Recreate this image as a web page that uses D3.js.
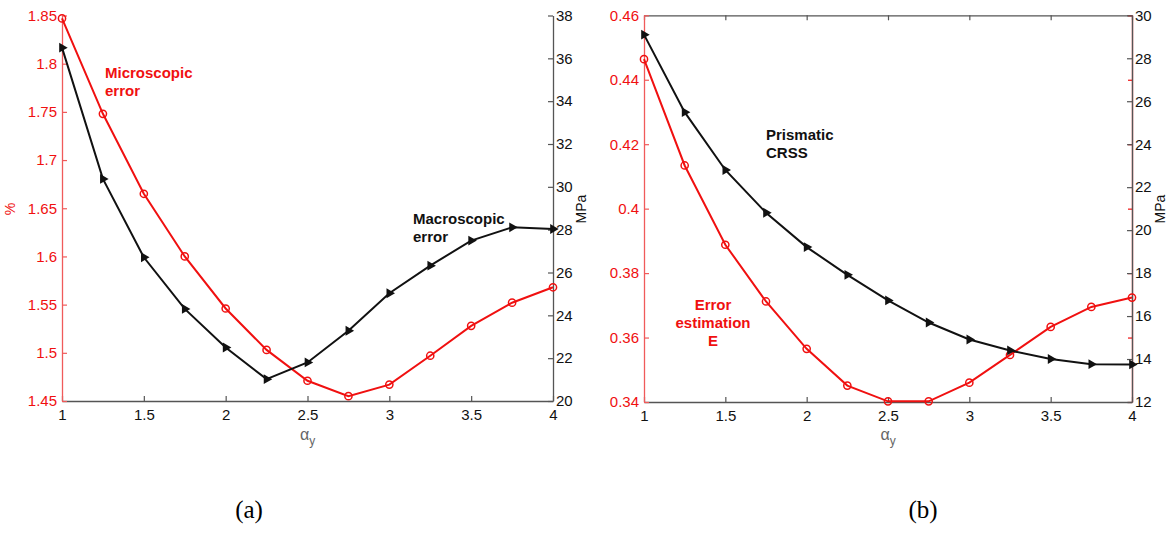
<!DOCTYPE html>
<html>
<head>
<meta charset="utf-8">
<script src="https://cdn.jsdelivr.net/npm/d3@7"></script>
<style>
  body { margin: 0; background: #fff; }
  svg { display: block; }
  text { font-family: Arial, "Liberation Sans", sans-serif; }
</style>
</head>
<body>
<div id="chart"></div>
<script>
// values
const alphaY = [1, 1.25, 1.5, 1.75, 2, 2.25, 2.5, 2.75, 3, 3.25, 3.5, 3.75, 4];

// (a)
const microError = [1.847, 1.748, 1.665, 1.600, 1.546, 1.503, 1.471, 1.455, 1.467, 1.497, 1.528, 1.552, 1.568];
const macroError = [36.5, 30.37, 26.71, 24.3, 22.5, 21.02, 21.8, 23.28, 25.03, 26.32, 27.49, 28.11, 28.03];

// (b)
const errorEstimation = [0.4464, 0.4134, 0.3888, 0.3712, 0.3565, 0.3451, 0.3402, 0.3402, 0.346, 0.3546, 0.3633, 0.3695, 0.3724];
const prismaticCRSS = [29.1, 25.49, 22.8, 20.81, 19.21, 17.92, 16.73, 15.7, 14.91, 14.4, 14.0, 13.76, 13.75];

const xTicks = [1, 1.5, 2, 2.5, 3, 3.5, 4];
const aLeftTicks = [1.45, 1.5, 1.55, 1.6, 1.65, 1.7, 1.75, 1.8, 1.85];
const aRightTicks = [20, 22, 24, 26, 28, 30, 32, 34, 36, 38];
const bLeftTicks = [0.34, 0.36, 0.38, 0.4, 0.42, 0.44, 0.46];
const bRightTicks = [12, 14, 16, 18, 20, 22, 24, 26, 28, 30];

const width = 1174;
const height = 533;
const red = "#f01010";
const dark = "#111";
const axisGray = "#555";

const svg = d3.select("#chart")
  .append("svg")
  .attr("width", width)
  .attr("height", height);

function styleAxis(sel, color, labelColor) {
  sel.selectAll("path.domain").attr("stroke", color).attr("stroke-width", 1.3);
  sel.selectAll(".tick line").attr("stroke", color).attr("stroke-width", 1.2);
  sel.selectAll(".tick text")
    .attr("fill", labelColor)
    .style("font-size", "15px");
}

function panel(p) {
  const x = d3.scaleLinear().domain([1, 4]).range([p.x0, p.x1]);
  const yL = d3.scaleLinear().domain(p.leftDomain).range([p.y1, p.y0]);
  const yR = d3.scaleLinear().domain(p.rightDomain).range([p.y1, p.y0]);
  const g = svg.append("g");
  const fmt = d => String(d);

  if (p.box) {
    g.append("g")
      .attr("transform", `translate(0,${p.y0})`)
      .call(d3.axisTop(x).tickValues(xTicks).tickSize(-5).tickSizeOuter(0).tickFormat(""))
      .call(s => styleAxis(s, axisGray, dark));
    // left ticks mirrored on the right edge
    g.append("g")
      .attr("transform", `translate(${p.x1},0)`)
      .call(d3.axisRight(yL).tickValues(p.leftTicks).tickSize(-4).tickSizeOuter(0).tickFormat(""))
      .call(s => styleAxis(s, red, red));
  }

  g.append("g")
    .attr("transform", `translate(0,${p.y1})`)
    .call(d3.axisBottom(x).tickValues(xTicks).tickSize(-5).tickSizeOuter(0).tickPadding(8).tickFormat(fmt))
    .call(s => styleAxis(s, axisGray, dark));

  g.append("g")
    .attr("transform", `translate(${p.x0},0)`)
    .call(d3.axisLeft(yL).tickValues(p.leftTicks).tickSize(-5).tickSizeOuter(0).tickPadding(5).tickFormat(fmt))
    .call(s => styleAxis(s, "#f05a5a", red));

  g.append("g")
    .attr("transform", `translate(${p.x1},0)`)
    .call(d3.axisRight(yR).tickValues(p.rightTicks).tickSize(-5).tickSizeOuter(0).tickPadding(3).tickFormat(fmt))
    .call(s => styleAxis(s, axisGray, dark));

  // red series (left axis)
  const lineL = d3.line().x((d, i) => x(alphaY[i])).y(d => yL(d));
  g.append("path")
    .datum(p.leftData)
    .attr("d", lineL)
    .attr("fill", "none")
    .attr("stroke", red)
    .attr("stroke-width", 2);
  g.selectAll("circle.mk")
    .data(p.leftData)
    .enter()
    .append("circle")
    .attr("class", "mk")
    .attr("cx", (d, i) => x(alphaY[i]))
    .attr("cy", d => yL(d))
    .attr("r", 3.6)
    .attr("fill", "none")
    .attr("stroke", red)
    .attr("stroke-width", 1.5);

  // black series (right axis)
  const lineR = d3.line().x((d, i) => x(alphaY[i])).y(d => yR(d));
  g.append("path")
    .datum(p.rightData)
    .attr("d", lineR)
    .attr("fill", "none")
    .attr("stroke", dark)
    .attr("stroke-width", 2);
  const tri = d3.symbol(d3.symbolTriangle, 42);
  g.selectAll("path.tri")
    .data(p.rightData)
    .enter()
    .append("path")
    .attr("class", "tri")
    .attr("d", tri)
    .attr("transform", (d, i) => `translate(${x(alphaY[i])},${yR(d)}) rotate(90)`)
    .attr("fill", dark);

  // axis titles
  g.append("text")
    .attr("transform", `translate(${(p.x0 + p.x1) / 2},440)`)
    .attr("text-anchor", "middle")
    .attr("fill", "#666")
    .style("font-size", "16px")
    .html('α<tspan dy="5" style="font-size:12px">y</tspan>');

  if (p.leftTitle) {
    g.append("text")
      .attr("transform", `translate(${p.x0 - 47},209) rotate(-90)`)
      .attr("text-anchor", "middle")
      .attr("fill", red)
      .style("font-size", "14px")
      .text(p.leftTitle);
  }
  g.append("text")
    .attr("transform", `translate(${p.x1 + 33},209) rotate(-90)`)
    .attr("text-anchor", "middle")
    .attr("fill", dark)
    .style("font-size", "14px")
    .text("MPa");

  // annotations
  p.notes.forEach(n => {
    const t = g.append("text")
      .attr("x", n.x)
      .attr("y", n.y)
      .attr("text-anchor", n.anchor || "start")
      .attr("fill", n.color)
      .style("font-size", "15px")
      .style("font-weight", "bold");
    n.lines.forEach((s, k) => {
      t.append("tspan").attr("x", n.x).attr("dy", k === 0 ? 0 : 18).text(s);
    });
  });

  svg.append("text")
    .attr("x", p.caption.x)
    .attr("y", 518)
    .attr("text-anchor", "middle")
    .style("font-family", "'Liberation Serif', 'Times New Roman', serif")
    .style("font-size", "25px")
    .text(p.caption.text);
}

panel({
  x0: 62, x1: 553, y0: 15.5, y1: 401,
  leftDomain: [1.45, 1.85], rightDomain: [20, 38],
  leftTicks: aLeftTicks, rightTicks: aRightTicks,
  leftData: microError, rightData: macroError,
  leftTitle: "%", box: false,
  notes: [
    { x: 105, y: 78, color: red, lines: ["Microscopic", "error"] },
    { x: 413, y: 224, color: dark, lines: ["Macroscopic", "error"] }
  ],
  caption: { x: 249, text: "(a)" }
});

panel({
  x0: 644, x1: 1132, y0: 15.3, y1: 402,
  leftDomain: [0.34, 0.46], rightDomain: [12, 30],
  leftTicks: bLeftTicks, rightTicks: bRightTicks,
  leftData: errorEstimation, rightData: prismaticCRSS,
  leftTitle: null, box: true,
  notes: [
    { x: 766, y: 140, color: dark, lines: ["Prismatic", "CRSS"] },
    { x: 713, y: 310, color: red, anchor: "middle", lines: ["Error", "estimation", "E"] }
  ],
  caption: { x: 923, text: "(b)" }
});
</script>
</body>
</html>
